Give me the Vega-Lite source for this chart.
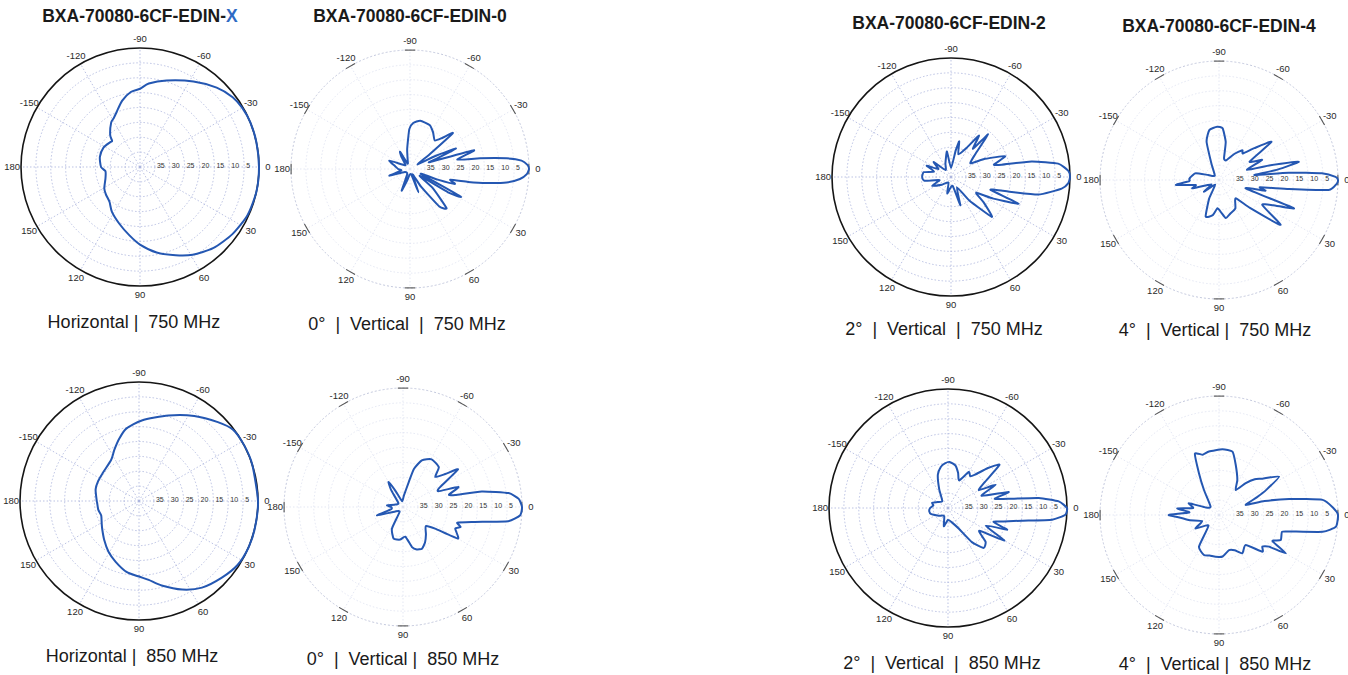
{
"$schema": "https://vega.github.io/schema/vega-lite/v6.json",
"padding": 0,
"background": "white",
"config": {"view": {"stroke": null}, "font": "Liberation Sans", "text": {"font": "Liberation Sans"}},
"datasets": {
"rings": [{"r":5},{"r":10},{"r":15},{"r":20},{"r":25},{"r":30},{"r":35},{"r":40}],
"spokes": [{"a":0},{"a":30},{"a":60},{"a":90},{"a":120},{"a":150},{"a":180},{"a":210},{"a":240},{"a":270},{"a":300},{"a":330}],
"alab": [{"a":0,"t":"0"},{"a":-30,"t":"-30"},{"a":-60,"t":"-60"},{"a":-90,"t":"-90"},{"a":-120,"t":"-120"},{"a":-150,"t":"-150"},{"a":180,"t":"180"},{"a":150,"t":"150"},{"a":120,"t":"120"},{"a":90,"t":"90"},{"a":60,"t":"60"},{"a":30,"t":"30"}],
"dbl": [{"db":35},{"db":30},{"db":25},{"db":20},{"db":15},{"db":10},{"db":5}],
"titles": [{"p":"P1","t":"BXA-70080-6CF-EDIN-"},{"p":"P1b","t":"X"},{"p":"P2","t":"BXA-70080-6CF-EDIN-0"},{"p":"P3","t":"BXA-70080-6CF-EDIN-2"},{"p":"P4","t":"BXA-70080-6CF-EDIN-4"}],
"subs": [{"p":"P1","t":"Horizontal |\u00a0 750 MHz"},{"p":"P2","t":"0°\u00a0 |\u00a0 Vertical\u00a0 |\u00a0 750 MHz"},{"p":"P3","t":"2°\u00a0 |\u00a0 Vertical\u00a0 |\u00a0 750 MHz"},{"p":"P4","t":"4°\u00a0 |\u00a0 Vertical |\u00a0 750 MHz"},{"p":"P5","t":"Horizontal |\u00a0 850 MHz"},{"p":"P6","t":"0°\u00a0 |\u00a0 Vertical |\u00a0 850 MHz"},{"p":"P7","t":"2°\u00a0 |\u00a0 Vertical\u00a0 |\u00a0 850 MHz"},{"p":"P8","t":"4°\u00a0 |\u00a0 Vertical |\u00a0 850 MHz"}],
"pat": [
{"p":"P1","a":-180,"db":26.9},{"p":"P1","a":-166,"db":26.1},{"p":"P1","a":-152,"db":26.1},{"p":"P1","a":-140,"db":27.0},{"p":"P1","a":-137,"db":27.2},{"p":"P1","a":-133,"db":25.3},{"p":"P1","a":-123,"db":22.2},{"p":"P1","a":-118,"db":21.3},{"p":"P1","a":-113,"db":19.9},{"p":"P1","a":-105,"db":16.9},{"p":"P1","a":-97,"db":14.6},{"p":"P1","a":-90,"db":13.7},{"p":"P1","a":-84,"db":11.8},{"p":"P1","a":-73,"db":9.6},{"p":"P1","a":-58,"db":6.1},{"p":"P1","a":-46,"db":2.9},{"p":"P1","a":-37,"db":1.0},{"p":"P1","a":-30,"db":0.3},{"p":"P1","a":-22,"db":0},{"p":"P1","a":-12,"db":0},{"p":"P1","a":0,"db":0},{"p":"P1","a":12,"db":0},{"p":"P1","a":24,"db":0.4},{"p":"P1","a":36,"db":1.6},{"p":"P1","a":48,"db":3.3},{"p":"P1","a":59,"db":5.6},{"p":"P1","a":68,"db":8.0},{"p":"P1","a":79,"db":10.7},{"p":"P1","a":90,"db":13.9},{"p":"P1","a":99,"db":16.8},{"p":"P1","a":110,"db":19.7},{"p":"P1","a":122,"db":22.2},{"p":"P1","a":131,"db":24.4},{"p":"P1","a":141,"db":25.3},{"p":"P1","a":149,"db":26.0},{"p":"P1","a":162,"db":27.8},{"p":"P1","a":173,"db":28.3},
{"p":"P5","a":-180,"db":25.8},{"p":"P5","a":-165,"db":24.9},{"p":"P5","a":-154,"db":24.7},{"p":"P5","a":-142,"db":24.6},{"p":"P5","a":-124,"db":23.3},{"p":"P5","a":-116,"db":21.0},{"p":"P5","a":-107.5,"db":18.0},{"p":"P5","a":-100,"db":15.3},{"p":"P5","a":-88,"db":12.9},{"p":"P5","a":-71,"db":9.6},{"p":"P5","a":-57,"db":5.9},{"p":"P5","a":-45,"db":2.5},{"p":"P5","a":-37,"db":0.3},{"p":"P5","a":-28,"db":0},{"p":"P5","a":-18,"db":0},{"p":"P5","a":0,"db":0},{"p":"P5","a":13,"db":0},{"p":"P5","a":23,"db":0},{"p":"P5","a":33,"db":0.5},{"p":"P5","a":43,"db":2.1},{"p":"P5","a":54,"db":4.0},{"p":"P5","a":64,"db":6.9},{"p":"P5","a":75,"db":10.6},{"p":"P5","a":83,"db":13.3},{"p":"P5","a":90,"db":14.6},{"p":"P5","a":100,"db":15.8},{"p":"P5","a":111,"db":18.1},{"p":"P5","a":121,"db":20.1},{"p":"P5","a":132,"db":22.5},{"p":"P5","a":143,"db":24.5},{"p":"P5","a":150,"db":25.5},{"p":"P5","a":159,"db":26.4},{"p":"P5","a":168,"db":26.0},{"p":"P5","a":178,"db":25.9},
{"p":"P2","a":-180,"db":36},{"p":"P2","a":-170,"db":35},{"p":"P2","a":-158,"db":32.5},{"p":"P2","a":-150,"db":37},{"p":"P2","a":-138,"db":38},{"p":"P2","a":-125,"db":35},{"p":"P2","a":-120,"db":33.3},{"p":"P2","a":-114,"db":38},{"p":"P2","a":-105,"db":37},{"p":"P2","a":-98,"db":33.2},{"p":"P2","a":-91,"db":26.6},{"p":"P2","a":-86,"db":24.5},{"p":"P2","a":-78,"db":23.4},{"p":"P2","a":-66,"db":23.8},{"p":"P2","a":-58,"db":25.4},{"p":"P2","a":-49,"db":27.3},{"p":"P2","a":-44,"db":25},{"p":"P2","a":-40,"db":21.2},{"p":"P2","a":-37,"db":31.6},{"p":"P2","a":-31,"db":37},{"p":"P2","a":-27,"db":30},{"p":"P2","a":-24,"db":23.1},{"p":"P2","a":-21,"db":31},{"p":"P2","a":-19,"db":33},{"p":"P2","a":-16.3,"db":17.6},{"p":"P2","a":-11.2,"db":23.8},{"p":"P2","a":-8.7,"db":16.2},{"p":"P2","a":-6.3,"db":7.3},{"p":"P2","a":-4.3,"db":2.4},{"p":"P2","a":-2,"db":0.5},{"p":"P2","a":0,"db":0},{"p":"P2","a":2.5,"db":0.7},{"p":"P2","a":5.2,"db":2.9},{"p":"P2","a":7.9,"db":7.2},{"p":"P2","a":10.3,"db":13.8},{"p":"P2","a":12.5,"db":20},{"p":"P2","a":15,"db":26},{"p":"P2","a":18.4,"db":24.1},{"p":"P2","a":21,"db":30},{"p":"P2","a":24,"db":36},{"p":"P2","a":28.6,"db":20.6},{"p":"P2","a":31.5,"db":25},{"p":"P2","a":35,"db":36},{"p":"P2","a":40,"db":30},{"p":"P2","a":47,"db":22},{"p":"P2","a":52,"db":24},{"p":"P2","a":58,"db":33},{"p":"P2","a":64,"db":38},{"p":"P2","a":70,"db":31.7},{"p":"P2","a":76,"db":38},{"p":"P2","a":95,"db":38},{"p":"P2","a":104,"db":36},{"p":"P2","a":111,"db":32.2},{"p":"P2","a":118,"db":38},{"p":"P2","a":150,"db":38},{"p":"P2","a":162,"db":32.7},{"p":"P2","a":170,"db":37},
{"p":"P3","a":-180,"db":30.3},{"p":"P3","a":-170,"db":30.7},{"p":"P3","a":-162,"db":34},{"p":"P3","a":-155,"db":31},{"p":"P3","a":-148,"db":35},{"p":"P3","a":-139,"db":32.3},{"p":"P3","a":-128,"db":37},{"p":"P3","a":-112,"db":35},{"p":"P3","a":-99,"db":31.3},{"p":"P3","a":-90,"db":37},{"p":"P3","a":-80,"db":31},{"p":"P3","a":-77,"db":27.7},{"p":"P3","a":-72,"db":32},{"p":"P3","a":-62,"db":29},{"p":"P3","a":-56,"db":23.2},{"p":"P3","a":-52,"db":28},{"p":"P3","a":-49,"db":21},{"p":"P3","a":-43,"db":29},{"p":"P3","a":-35,"db":32},{"p":"P3","a":-28,"db":27},{"p":"P3","a":-21,"db":20.5},{"p":"P3","a":-16,"db":25},{"p":"P3","a":-13.6,"db":22.4},{"p":"P3","a":-10.9,"db":12.4},{"p":"P3","a":-7.1,"db":3.7},{"p":"P3","a":-3,"db":0.5},{"p":"P3","a":0,"db":0},{"p":"P3","a":3,"db":0.5},{"p":"P3","a":6,"db":2.6},{"p":"P3","a":11.4,"db":10.1},{"p":"P3","a":15,"db":22},{"p":"P3","a":18,"db":26},{"p":"P3","a":21.5,"db":15.6},{"p":"P3","a":27,"db":24},{"p":"P3","a":32,"db":30},{"p":"P3","a":38,"db":26},{"p":"P3","a":44.3,"db":20.8},{"p":"P3","a":52,"db":30},{"p":"P3","a":60,"db":36},{"p":"P3","a":71.8,"db":30},{"p":"P3","a":80,"db":37},{"p":"P3","a":103,"db":34.3},{"p":"P3","a":115,"db":38},{"p":"P3","a":140,"db":36},{"p":"P3","a":155,"db":33},{"p":"P3","a":165,"db":36},{"p":"P3","a":172,"db":31},
{"p":"P4","a":-178,"db":30},{"p":"P4","a":-170,"db":31},{"p":"P4","a":-164,"db":31.9},{"p":"P4","a":-155,"db":36},{"p":"P4","a":-135,"db":38},{"p":"P4","a":-115,"db":34},{"p":"P4","a":-108,"db":26.5},{"p":"P4","a":-101,"db":22.9},{"p":"P4","a":-92,"db":22.1},{"p":"P4","a":-86,"db":22.6},{"p":"P4","a":-80,"db":27},{"p":"P4","a":-77,"db":32.5},{"p":"P4","a":-70,"db":33},{"p":"P4","a":-60,"db":30},{"p":"P4","a":-52,"db":27.3},{"p":"P4","a":-48,"db":28},{"p":"P4","a":-42,"db":24},{"p":"P4","a":-36,"db":18.2},{"p":"P4","a":-31,"db":28},{"p":"P4","a":-25,"db":24},{"p":"P4","a":-20,"db":30},{"p":"P4","a":-16,"db":22},{"p":"P4","a":-12.9,"db":12.5},{"p":"P4","a":-10,"db":20},{"p":"P4","a":-8,"db":28},{"p":"P4","a":-6,"db":16.4},{"p":"P4","a":-3.7,"db":5.3},{"p":"P4","a":-1.5,"db":0.8},{"p":"P4","a":0,"db":0},{"p":"P4","a":2,"db":0.5},{"p":"P4","a":5.2,"db":3},{"p":"P4","a":7.3,"db":16.3},{"p":"P4","a":10,"db":26},{"p":"P4","a":13,"db":24},{"p":"P4","a":17.4,"db":30.6},{"p":"P4","a":20.7,"db":13.1},{"p":"P4","a":25,"db":20},{"p":"P4","a":30,"db":23.2},{"p":"P4","a":36.1,"db":14.4},{"p":"P4","a":42,"db":26},{"p":"P4","a":47.7,"db":31.7},{"p":"P4","a":60,"db":29},{"p":"P4","a":72,"db":28},{"p":"P4","a":80,"db":27},{"p":"P4","a":86,"db":29},{"p":"P4","a":93,"db":30.5},{"p":"P4","a":100,"db":28},{"p":"P4","a":110,"db":26.9},{"p":"P4","a":118,"db":33},{"p":"P4","a":130,"db":38},{"p":"P4","a":142,"db":33.6},{"p":"P4","a":150,"db":37},{"p":"P4","a":162.6,"db":30.6},{"p":"P4","a":168,"db":32},{"p":"P4","a":173.4,"db":25.4},{"p":"P4","a":178,"db":30},
{"p":"P6","a":-180,"db":36},{"p":"P6","a":-174,"db":34.6},{"p":"P6","a":-165,"db":37},{"p":"P6","a":-140,"db":38},{"p":"P6","a":-125,"db":33},{"p":"P6","a":-120,"db":30.3},{"p":"P6","a":-115,"db":34},{"p":"P6","a":-100,"db":38},{"p":"P6","a":-85,"db":36},{"p":"P6","a":-77,"db":31.4},{"p":"P6","a":-74,"db":26.7},{"p":"P6","a":-68,"db":23.1},{"p":"P6","a":-59,"db":21.3},{"p":"P6","a":-48,"db":22},{"p":"P6","a":-43,"db":25.2},{"p":"P6","a":-38,"db":22},{"p":"P6","a":-34.4,"db":17.6},{"p":"P6","a":-28,"db":26},{"p":"P6","a":-24,"db":27},{"p":"P6","a":-19.8,"db":20.2},{"p":"P6","a":-15,"db":24},{"p":"P6","a":-13,"db":22},{"p":"P6","a":-11.2,"db":13},{"p":"P6","a":-7.5,"db":4.2},{"p":"P6","a":-4,"db":1},{"p":"P6","a":0,"db":0},{"p":"P6","a":4,"db":0.5},{"p":"P6","a":7.7,"db":4.3},{"p":"P6","a":11.7,"db":15.3},{"p":"P6","a":16,"db":21},{"p":"P6","a":19,"db":19.5},{"p":"P6","a":22.5,"db":21},{"p":"P6","a":29.9,"db":18.7},{"p":"P6","a":34,"db":27},{"p":"P6","a":40,"db":30},{"p":"P6","a":50,"db":28},{"p":"P6","a":58,"db":26},{"p":"P6","a":65.5,"db":24.6},{"p":"P6","a":72,"db":25},{"p":"P6","a":77.3,"db":26.2},{"p":"P6","a":85.6,"db":30},{"p":"P6","a":95,"db":29},{"p":"P6","a":106.4,"db":28.9},{"p":"P6","a":117,"db":31.8},{"p":"P6","a":125,"db":38},{"p":"P6","a":150,"db":37},{"p":"P6","a":162,"db":30.8},{"p":"P6","a":170,"db":36},
{"p":"P7","a":-180,"db":34},{"p":"P7","a":-170,"db":35},{"p":"P7","a":-162,"db":34.4},{"p":"P7","a":-150,"db":36},{"p":"P7","a":-130,"db":37},{"p":"P7","a":-115,"db":33},{"p":"P7","a":-107,"db":28.3},{"p":"P7","a":-100,"db":26},{"p":"P7","a":-94,"db":25},{"p":"P7","a":-88,"db":24.5},{"p":"P7","a":-80,"db":25.5},{"p":"P7","a":-74,"db":27.7},{"p":"P7","a":-68,"db":30},{"p":"P7","a":-60,"db":26},{"p":"P7","a":-55,"db":27},{"p":"P7","a":-51,"db":25.6},{"p":"P7","a":-45,"db":21},{"p":"P7","a":-40,"db":17.4},{"p":"P7","a":-35,"db":25},{"p":"P7","a":-30,"db":28},{"p":"P7","a":-26,"db":22.2},{"p":"P7","a":-20,"db":28},{"p":"P7","a":-14.8,"db":18.9},{"p":"P7","a":-11,"db":24},{"p":"P7","a":-8.3,"db":18.2},{"p":"P7","a":-6.3,"db":9.3},{"p":"P7","a":-3.4,"db":2.7},{"p":"P7","a":0,"db":0},{"p":"P7","a":3.3,"db":0.5},{"p":"P7","a":6.4,"db":4.8},{"p":"P7","a":9.7,"db":14.7},{"p":"P7","a":13.5,"db":20.7},{"p":"P7","a":17,"db":24},{"p":"P7","a":20.2,"db":18.8},{"p":"P7","a":25,"db":26},{"p":"P7","a":30.1,"db":18.1},{"p":"P7","a":36,"db":27},{"p":"P7","a":42,"db":23},{"p":"P7","a":48.3,"db":22},{"p":"P7","a":55,"db":26},{"p":"P7","a":62,"db":32},{"p":"P7","a":75,"db":35},{"p":"P7","a":90,"db":36},{"p":"P7","a":103,"db":33.7},{"p":"P7","a":115,"db":37},{"p":"P7","a":140,"db":36},{"p":"P7","a":160,"db":34},{"p":"P7","a":170,"db":33.6},
{"p":"P8","a":-180,"db":23.1},{"p":"P8","a":-175,"db":30},{"p":"P8","a":-171,"db":25.8},{"p":"P8","a":-165,"db":31},{"p":"P8","a":-158.7,"db":29.1},{"p":"P8","a":-150,"db":35},{"p":"P8","a":-135,"db":36},{"p":"P8","a":-121,"db":30.2},{"p":"P8","a":-115.6,"db":24.4},{"p":"P8","a":-111.5,"db":17.9},{"p":"P8","a":-105,"db":19},{"p":"P8","a":-99,"db":18.4},{"p":"P8","a":-87,"db":17.9},{"p":"P8","a":-78,"db":18.2},{"p":"P8","a":-71.6,"db":22.2},{"p":"P8","a":-62.4,"db":26.7},{"p":"P8","a":-56.3,"db":29.9},{"p":"P8","a":-50,"db":26},{"p":"P8","a":-45,"db":23},{"p":"P8","a":-40,"db":21},{"p":"P8","a":-32.6,"db":16},{"p":"P8","a":-28,"db":22},{"p":"P8","a":-25,"db":26},{"p":"P8","a":-20.6,"db":30.4},{"p":"P8","a":-17,"db":24},{"p":"P8","a":-12.9,"db":15.8},{"p":"P8","a":-8.3,"db":4.8},{"p":"P8","a":-3.5,"db":1.5},{"p":"P8","a":0,"db":0},{"p":"P8","a":5.7,"db":0.5},{"p":"P8","a":9.2,"db":4.7},{"p":"P8","a":13.3,"db":16},{"p":"P8","a":15,"db":18.1},{"p":"P8","a":22.1,"db":17.6},{"p":"P8","a":26,"db":20},{"p":"P8","a":29.9,"db":14.1},{"p":"P8","a":32.3,"db":20.1},{"p":"P8","a":36,"db":22},{"p":"P8","a":40.2,"db":20.9},{"p":"P8","a":48.4,"db":26.5},{"p":"P8","a":58.7,"db":24.9},{"p":"P8","a":66,"db":27},{"p":"P8","a":74,"db":27.7},{"p":"P8","a":85,"db":26},{"p":"P8","a":94.6,"db":25.9},{"p":"P8","a":103,"db":26},{"p":"P8","a":110.6,"db":25.6},{"p":"P8","a":122.3,"db":27.4},{"p":"P8","a":135,"db":35},{"p":"P8","a":150,"db":30.9},{"p":"P8","a":160,"db":34},{"p":"P8","a":170,"db":30},{"p":"P8","a":176,"db":27}
]
},
"bounds": "flush",
"spacing": 0,
"columns": 4,
"concat": [
  {"width": 275, "height": 335,
   "encoding": {"x": {"field": "x", "type": "quantitative", "scale": {"domain": [-47.059, 45.378], "nice": false, "zero": false}, "axis": null},
                "y": {"field": "y", "type": "quantitative", "scale": {"domain": [-56.471, 56.134], "nice": false, "zero": false}, "axis": null}},
   "layer": [
    {"data": {"name": "rings"}, "transform": [{"filter": "datum.r < 40"}, {"calculate": "0", "as": "x"}, {"calculate": "0", "as": "y"}],
     "mark": {"type": "point", "shape": "circle", "filled": false, "stroke": "#a9b2dc", "strokeWidth": 0.8, "strokeDash": [1.5, 2], "opacity": 1},
     "encoding": {"size": {"field": "r", "type": "quantitative", "scale": {"type": "pow", "exponent": 2, "domain": [0, 40], "range": [0, 56644]}, "legend": null}}},
    {"data": {"name": "spokes"}, "transform": [{"calculate": "0", "as": "x"}, {"calculate": "0", "as": "y"}, {"calculate": "40*cos(datum.a*PI/180)", "as": "x2"}, {"calculate": "-40*sin(datum.a*PI/180)", "as": "y2"}],
     "mark": {"type": "rule", "stroke": "#a9b2dc", "strokeWidth": 0.8, "strokeDash": [1.5, 2]},
     "encoding": {"x2": {"field": "x2"}, "y2": {"field": "y2"}}},
    {"data": {"name": "rings"}, "transform": [{"filter": "datum.r == 40"}, {"calculate": "0", "as": "x"}, {"calculate": "0", "as": "y"}],
     "mark": {"type": "point", "shape": "circle", "filled": false, "stroke": "#151515", "strokeWidth": 1.6, "opacity": 1},
     "encoding": {"size": {"field": "r", "type": "quantitative", "scale": {"type": "pow", "exponent": 2, "domain": [0, 40], "range": [0, 56644]}, "legend": null}}},
    {"data": {"name": "alab"}, "transform": [{"calculate": "43*cos(datum.a*PI/180)", "as": "x"}, {"calculate": "-43*sin(datum.a*PI/180)", "as": "y"}],
     "mark": {"type": "text", "fontSize": 9.5, "color": "#2a2a2a", "baseline": "middle", "align": "center"},
     "encoding": {"text": {"field": "t"}}},
    {"data": {"name": "dbl"}, "transform": [{"calculate": "40-datum.db", "as": "x"}, {"calculate": "0", "as": "y"}],
     "mark": {"type": "text", "fontSize": 7, "color": "#333333", "baseline": "middle", "align": "left", "dx": 2, "dy": -1},
     "encoding": {"text": {"field": "db"}}},
    {"data": {"name": "pat"}, "transform": [{"filter": "datum.p == 'P1'"}, {"calculate": "(40-datum.db)*cos(datum.a*PI/180)", "as": "x"}, {"calculate": "-(40-datum.db)*sin(datum.a*PI/180)", "as": "y"}],
     "mark": {"type": "line", "interpolate": "cardinal-closed", "tension": 0.3, "stroke": "#2457b2", "strokeWidth": 2},
     "encoding": {"order": {"field": "a", "type": "quantitative"}}},
    {"data": {"name": "titles"}, "transform": [{"filter": "datum.p == 'P1'"}, {"calculate": "0", "as": "x"}, {"calculate": "50.42", "as": "y"}],
     "mark": {"type": "text", "fontSize": 17.5, "fontWeight": "bold", "color": "#1a1a1a", "baseline": "middle", "align": "right", "dx": 86},
     "encoding": {"text": {"field": "t"}}},
    {"data": {"name": "titles"}, "transform": [{"filter": "datum.p == 'P1b'"}, {"calculate": "0", "as": "x"}, {"calculate": "50.42", "as": "y"}],
     "mark": {"type": "text", "fontSize": 17.5, "fontWeight": "bold", "color": "#2f6bc4", "baseline": "middle", "align": "left", "dx": 86},
     "encoding": {"text": {"field": "t"}}},
    {"data": {"name": "subs"}, "transform": [{"filter": "datum.p == 'P1'"}, {"calculate": "-2.02", "as": "x"}, {"calculate": "-52.44", "as": "y"}],
     "mark": {"type": "text", "fontSize": 18, "color": "#1a1a1a", "baseline": "middle", "align": "center"},
     "encoding": {"text": {"field": "t"}}}
   ]},
  {"width": 541, "height": 335,
   "encoding": {"x": {"field": "x", "type": "quantitative", "scale": {"domain": [-45.378, 136.471], "nice": false, "zero": false}, "axis": null},
                "y": {"field": "y", "type": "quantitative", "scale": {"domain": [-55.798, 56.807], "nice": false, "zero": false}, "axis": null}},
   "layer": [
    {"data": {"name": "rings"}, "transform": [{"filter": "datum.r < 40"}, {"calculate": "0", "as": "x"}, {"calculate": "0", "as": "y"}],
     "mark": {"type": "point", "shape": "circle", "filled": false, "stroke": "#dde1f0", "strokeWidth": 0.8, "strokeDash": [1.5, 2], "opacity": 1},
     "encoding": {"size": {"field": "r", "type": "quantitative", "scale": {"type": "pow", "exponent": 2, "domain": [0, 40], "range": [0, 56644]}, "legend": null}}},
    {"data": {"name": "spokes"}, "transform": [{"calculate": "0", "as": "x"}, {"calculate": "0", "as": "y"}, {"calculate": "40*cos(datum.a*PI/180)", "as": "x2"}, {"calculate": "-40*sin(datum.a*PI/180)", "as": "y2"}],
     "mark": {"type": "rule", "stroke": "#dde1f0", "strokeWidth": 0.8, "strokeDash": [1.5, 2]},
     "encoding": {"x2": {"field": "x2"}, "y2": {"field": "y2"}}},
    {"data": {"name": "rings"}, "transform": [{"filter": "datum.r == 40"}, {"calculate": "0", "as": "x"}, {"calculate": "0", "as": "y"}],
     "mark": {"type": "point", "shape": "circle", "filled": false, "stroke": "#c3c8dd", "strokeWidth": 1, "strokeDash": [2, 2], "opacity": 1},
     "encoding": {"size": {"field": "r", "type": "quantitative", "scale": {"type": "pow", "exponent": 2, "domain": [0, 40], "range": [0, 56644]}, "legend": null}}},
    {"data": {"name": "alab"}, "transform": [{"calculate": "40*cos((datum.a-2.5)*PI/180)", "as": "x"}, {"calculate": "-40*sin((datum.a-2.5)*PI/180)", "as": "y"}, {"calculate": "40*cos((datum.a+2.5)*PI/180)", "as": "x2"}, {"calculate": "-40*sin((datum.a+2.5)*PI/180)", "as": "y2"}],
     "mark": {"type": "rule", "stroke": "#555555", "strokeWidth": 1.1},
     "encoding": {"x2": {"field": "x2"}, "y2": {"field": "y2"}}},
    {"data": {"name": "alab"}, "transform": [{"calculate": "43*cos(datum.a*PI/180)", "as": "x"}, {"calculate": "-43*sin(datum.a*PI/180)", "as": "y"}],
     "mark": {"type": "text", "fontSize": 9.5, "color": "#2a2a2a", "baseline": "middle", "align": "center"},
     "encoding": {"text": {"field": "t"}}},
    {"data": {"name": "dbl"}, "transform": [{"calculate": "40-datum.db", "as": "x"}, {"calculate": "0", "as": "y"}],
     "mark": {"type": "text", "fontSize": 7, "color": "#333333", "baseline": "middle", "align": "left", "dx": 2, "dy": -1},
     "encoding": {"text": {"field": "db"}}},
    {"data": {"name": "pat"}, "transform": [{"filter": "datum.p == 'P2'"}, {"calculate": "(40-datum.db)*cos(datum.a*PI/180)", "as": "x"}, {"calculate": "-(40-datum.db)*sin(datum.a*PI/180)", "as": "y"}],
     "mark": {"type": "line", "interpolate": "cardinal-closed", "tension": 0.5, "stroke": "#2457b2", "strokeWidth": 2},
     "encoding": {"order": {"field": "a", "type": "quantitative"}}},
    {"data": {"name": "titles"}, "transform": [{"filter": "datum.p == 'P2'"}, {"calculate": "0", "as": "x"}, {"calculate": "51.09", "as": "y"}],
     "mark": {"type": "text", "fontSize": 17.5, "fontWeight": "bold", "color": "#1a1a1a", "baseline": "middle", "align": "center"},
     "encoding": {"text": {"field": "t"}}},
    {"data": {"name": "subs"}, "transform": [{"filter": "datum.p == 'P2'"}, {"calculate": "-1.01", "as": "x"}, {"calculate": "-52.44", "as": "y"}],
     "mark": {"type": "text", "fontSize": 18, "color": "#1a1a1a", "baseline": "middle", "align": "center"},
     "encoding": {"text": {"field": "t"}}}
   ]},
  {"width": 270, "height": 335,
   "encoding": {"x": {"field": "x", "type": "quantitative", "scale": {"domain": [-45.378, 45.378], "nice": false, "zero": false}, "axis": null},
                "y": {"field": "y", "type": "quantitative", "scale": {"domain": [-53.109, 59.496], "nice": false, "zero": false}, "axis": null}},
   "layer": [
    {"data": {"name": "rings"}, "transform": [{"filter": "datum.r < 40"}, {"calculate": "0", "as": "x"}, {"calculate": "0", "as": "y"}],
     "mark": {"type": "point", "shape": "circle", "filled": false, "stroke": "#a9b2dc", "strokeWidth": 0.8, "strokeDash": [1.5, 2], "opacity": 1},
     "encoding": {"size": {"field": "r", "type": "quantitative", "scale": {"type": "pow", "exponent": 2, "domain": [0, 40], "range": [0, 56644]}, "legend": null}}},
    {"data": {"name": "spokes"}, "transform": [{"calculate": "0", "as": "x"}, {"calculate": "0", "as": "y"}, {"calculate": "40*cos(datum.a*PI/180)", "as": "x2"}, {"calculate": "-40*sin(datum.a*PI/180)", "as": "y2"}],
     "mark": {"type": "rule", "stroke": "#a9b2dc", "strokeWidth": 0.8, "strokeDash": [1.5, 2]},
     "encoding": {"x2": {"field": "x2"}, "y2": {"field": "y2"}}},
    {"data": {"name": "rings"}, "transform": [{"filter": "datum.r == 40"}, {"calculate": "0", "as": "x"}, {"calculate": "0", "as": "y"}],
     "mark": {"type": "point", "shape": "circle", "filled": false, "stroke": "#151515", "strokeWidth": 1.6, "opacity": 1},
     "encoding": {"size": {"field": "r", "type": "quantitative", "scale": {"type": "pow", "exponent": 2, "domain": [0, 40], "range": [0, 56644]}, "legend": null}}},
    {"data": {"name": "alab"}, "transform": [{"calculate": "43*cos(datum.a*PI/180)", "as": "x"}, {"calculate": "-43*sin(datum.a*PI/180)", "as": "y"}],
     "mark": {"type": "text", "fontSize": 9.5, "color": "#2a2a2a", "baseline": "middle", "align": "center"},
     "encoding": {"text": {"field": "t"}}},
    {"data": {"name": "dbl"}, "transform": [{"calculate": "40-datum.db", "as": "x"}, {"calculate": "0", "as": "y"}],
     "mark": {"type": "text", "fontSize": 7, "color": "#333333", "baseline": "middle", "align": "left", "dx": 2, "dy": -1},
     "encoding": {"text": {"field": "db"}}},
    {"data": {"name": "pat"}, "transform": [{"filter": "datum.p == 'P3'"}, {"calculate": "(40-datum.db)*cos(datum.a*PI/180)", "as": "x"}, {"calculate": "-(40-datum.db)*sin(datum.a*PI/180)", "as": "y"}],
     "mark": {"type": "line", "interpolate": "cardinal-closed", "tension": 0.5, "stroke": "#2457b2", "strokeWidth": 2},
     "encoding": {"order": {"field": "a", "type": "quantitative"}}},
    {"data": {"name": "titles"}, "transform": [{"filter": "datum.p == 'P3'"}, {"calculate": "-0.67", "as": "x"}, {"calculate": "51.43", "as": "y"}],
     "mark": {"type": "text", "fontSize": 17.5, "fontWeight": "bold", "color": "#1a1a1a", "baseline": "middle", "align": "center"},
     "encoding": {"text": {"field": "t"}}},
    {"data": {"name": "subs"}, "transform": [{"filter": "datum.p == 'P3'"}, {"calculate": "-2.35", "as": "x"}, {"calculate": "-51.43", "as": "y"}],
     "mark": {"type": "text", "fontSize": 18, "color": "#1a1a1a", "baseline": "middle", "align": "center"},
     "encoding": {"text": {"field": "t"}}}
   ]},
  {"width": 262, "height": 335,
   "encoding": {"x": {"field": "x", "type": "quantitative", "scale": {"domain": [-44.706, 43.361], "nice": false, "zero": false}, "axis": null},
                "y": {"field": "y", "type": "quantitative", "scale": {"domain": [-52.101, 60.504], "nice": false, "zero": false}, "axis": null}},
   "layer": [
    {"data": {"name": "rings"}, "transform": [{"filter": "datum.r < 40"}, {"calculate": "0", "as": "x"}, {"calculate": "0", "as": "y"}],
     "mark": {"type": "point", "shape": "circle", "filled": false, "stroke": "#dde1f0", "strokeWidth": 0.8, "strokeDash": [1.5, 2], "opacity": 1},
     "encoding": {"size": {"field": "r", "type": "quantitative", "scale": {"type": "pow", "exponent": 2, "domain": [0, 40], "range": [0, 56644]}, "legend": null}}},
    {"data": {"name": "spokes"}, "transform": [{"calculate": "0", "as": "x"}, {"calculate": "0", "as": "y"}, {"calculate": "40*cos(datum.a*PI/180)", "as": "x2"}, {"calculate": "-40*sin(datum.a*PI/180)", "as": "y2"}],
     "mark": {"type": "rule", "stroke": "#dde1f0", "strokeWidth": 0.8, "strokeDash": [1.5, 2]},
     "encoding": {"x2": {"field": "x2"}, "y2": {"field": "y2"}}},
    {"data": {"name": "rings"}, "transform": [{"filter": "datum.r == 40"}, {"calculate": "0", "as": "x"}, {"calculate": "0", "as": "y"}],
     "mark": {"type": "point", "shape": "circle", "filled": false, "stroke": "#c3c8dd", "strokeWidth": 1, "strokeDash": [2, 2], "opacity": 1},
     "encoding": {"size": {"field": "r", "type": "quantitative", "scale": {"type": "pow", "exponent": 2, "domain": [0, 40], "range": [0, 56644]}, "legend": null}}},
    {"data": {"name": "alab"}, "transform": [{"calculate": "40*cos((datum.a-2.5)*PI/180)", "as": "x"}, {"calculate": "-40*sin((datum.a-2.5)*PI/180)", "as": "y"}, {"calculate": "40*cos((datum.a+2.5)*PI/180)", "as": "x2"}, {"calculate": "-40*sin((datum.a+2.5)*PI/180)", "as": "y2"}],
     "mark": {"type": "rule", "stroke": "#555555", "strokeWidth": 1.1},
     "encoding": {"x2": {"field": "x2"}, "y2": {"field": "y2"}}},
    {"data": {"name": "alab"}, "transform": [{"calculate": "43*cos(datum.a*PI/180)", "as": "x"}, {"calculate": "-43*sin(datum.a*PI/180)", "as": "y"}],
     "mark": {"type": "text", "fontSize": 9.5, "color": "#2a2a2a", "baseline": "middle", "align": "center"},
     "encoding": {"text": {"field": "t"}}},
    {"data": {"name": "dbl"}, "transform": [{"calculate": "40-datum.db", "as": "x"}, {"calculate": "0", "as": "y"}],
     "mark": {"type": "text", "fontSize": 7, "color": "#333333", "baseline": "middle", "align": "left", "dx": 2, "dy": -1},
     "encoding": {"text": {"field": "db"}}},
    {"data": {"name": "pat"}, "transform": [{"filter": "datum.p == 'P4'"}, {"calculate": "(40-datum.db)*cos(datum.a*PI/180)", "as": "x"}, {"calculate": "-(40-datum.db)*sin(datum.a*PI/180)", "as": "y"}],
     "mark": {"type": "line", "interpolate": "cardinal-closed", "tension": 0.5, "stroke": "#2457b2", "strokeWidth": 2},
     "encoding": {"order": {"field": "a", "type": "quantitative"}}},
    {"data": {"name": "titles"}, "transform": [{"filter": "datum.p == 'P4'"}, {"calculate": "0", "as": "x"}, {"calculate": "51.43", "as": "y"}],
     "mark": {"type": "text", "fontSize": 17.5, "fontWeight": "bold", "color": "#1a1a1a", "baseline": "middle", "align": "center"},
     "encoding": {"text": {"field": "t"}}},
    {"data": {"name": "subs"}, "transform": [{"filter": "datum.p == 'P4'"}, {"calculate": "-1.34", "as": "x"}, {"calculate": "-50.76", "as": "y"}],
     "mark": {"type": "text", "fontSize": 18, "color": "#1a1a1a", "baseline": "middle", "align": "center"},
     "encoding": {"text": {"field": "t"}}}
   ]},
  {"width": 275, "height": 340,
   "encoding": {"x": {"field": "x", "type": "quantitative", "scale": {"domain": [-46.723, 45.714], "nice": false, "zero": false}, "axis": null},
                "y": {"field": "y", "type": "quantitative", "scale": {"domain": [-58.487, 55.798], "nice": false, "zero": false}, "axis": null}},
   "layer": [
    {"data": {"name": "rings"}, "transform": [{"filter": "datum.r < 40"}, {"calculate": "0", "as": "x"}, {"calculate": "0", "as": "y"}],
     "mark": {"type": "point", "shape": "circle", "filled": false, "stroke": "#a9b2dc", "strokeWidth": 0.8, "strokeDash": [1.5, 2], "opacity": 1},
     "encoding": {"size": {"field": "r", "type": "quantitative", "scale": {"type": "pow", "exponent": 2, "domain": [0, 40], "range": [0, 56644]}, "legend": null}}},
    {"data": {"name": "spokes"}, "transform": [{"calculate": "0", "as": "x"}, {"calculate": "0", "as": "y"}, {"calculate": "40*cos(datum.a*PI/180)", "as": "x2"}, {"calculate": "-40*sin(datum.a*PI/180)", "as": "y2"}],
     "mark": {"type": "rule", "stroke": "#a9b2dc", "strokeWidth": 0.8, "strokeDash": [1.5, 2]},
     "encoding": {"x2": {"field": "x2"}, "y2": {"field": "y2"}}},
    {"data": {"name": "rings"}, "transform": [{"filter": "datum.r == 40"}, {"calculate": "0", "as": "x"}, {"calculate": "0", "as": "y"}],
     "mark": {"type": "point", "shape": "circle", "filled": false, "stroke": "#151515", "strokeWidth": 1.6, "opacity": 1},
     "encoding": {"size": {"field": "r", "type": "quantitative", "scale": {"type": "pow", "exponent": 2, "domain": [0, 40], "range": [0, 56644]}, "legend": null}}},
    {"data": {"name": "alab"}, "transform": [{"calculate": "43*cos(datum.a*PI/180)", "as": "x"}, {"calculate": "-43*sin(datum.a*PI/180)", "as": "y"}],
     "mark": {"type": "text", "fontSize": 9.5, "color": "#2a2a2a", "baseline": "middle", "align": "center"},
     "encoding": {"text": {"field": "t"}}},
    {"data": {"name": "dbl"}, "transform": [{"calculate": "40-datum.db", "as": "x"}, {"calculate": "0", "as": "y"}],
     "mark": {"type": "text", "fontSize": 7, "color": "#333333", "baseline": "middle", "align": "left", "dx": 2, "dy": -1},
     "encoding": {"text": {"field": "db"}}},
    {"data": {"name": "pat"}, "transform": [{"filter": "datum.p == 'P5'"}, {"calculate": "(40-datum.db)*cos(datum.a*PI/180)", "as": "x"}, {"calculate": "-(40-datum.db)*sin(datum.a*PI/180)", "as": "y"}],
     "mark": {"type": "line", "interpolate": "cardinal-closed", "tension": 0.3, "stroke": "#2457b2", "strokeWidth": 2},
     "encoding": {"order": {"field": "a", "type": "quantitative"}}},
    {"data": {"name": "subs"}, "transform": [{"filter": "datum.p == 'P5'"}, {"calculate": "-2.35", "as": "x"}, {"calculate": "-52.44", "as": "y"}],
     "mark": {"type": "text", "fontSize": 18, "color": "#1a1a1a", "baseline": "middle", "align": "center"},
     "encoding": {"text": {"field": "t"}}}
   ]},
  {"width": 541, "height": 340,
   "encoding": {"x": {"field": "x", "type": "quantitative", "scale": {"domain": [-43.025, 138.824], "nice": false, "zero": false}, "axis": null},
                "y": {"field": "y", "type": "quantitative", "scale": {"domain": [-56.471, 57.815], "nice": false, "zero": false}, "axis": null}},
   "layer": [
    {"data": {"name": "rings"}, "transform": [{"filter": "datum.r < 40"}, {"calculate": "0", "as": "x"}, {"calculate": "0", "as": "y"}],
     "mark": {"type": "point", "shape": "circle", "filled": false, "stroke": "#dde1f0", "strokeWidth": 0.8, "strokeDash": [1.5, 2], "opacity": 1},
     "encoding": {"size": {"field": "r", "type": "quantitative", "scale": {"type": "pow", "exponent": 2, "domain": [0, 40], "range": [0, 56644]}, "legend": null}}},
    {"data": {"name": "spokes"}, "transform": [{"calculate": "0", "as": "x"}, {"calculate": "0", "as": "y"}, {"calculate": "40*cos(datum.a*PI/180)", "as": "x2"}, {"calculate": "-40*sin(datum.a*PI/180)", "as": "y2"}],
     "mark": {"type": "rule", "stroke": "#dde1f0", "strokeWidth": 0.8, "strokeDash": [1.5, 2]},
     "encoding": {"x2": {"field": "x2"}, "y2": {"field": "y2"}}},
    {"data": {"name": "rings"}, "transform": [{"filter": "datum.r == 40"}, {"calculate": "0", "as": "x"}, {"calculate": "0", "as": "y"}],
     "mark": {"type": "point", "shape": "circle", "filled": false, "stroke": "#c3c8dd", "strokeWidth": 1, "strokeDash": [2, 2], "opacity": 1},
     "encoding": {"size": {"field": "r", "type": "quantitative", "scale": {"type": "pow", "exponent": 2, "domain": [0, 40], "range": [0, 56644]}, "legend": null}}},
    {"data": {"name": "alab"}, "transform": [{"calculate": "40*cos((datum.a-2.5)*PI/180)", "as": "x"}, {"calculate": "-40*sin((datum.a-2.5)*PI/180)", "as": "y"}, {"calculate": "40*cos((datum.a+2.5)*PI/180)", "as": "x2"}, {"calculate": "-40*sin((datum.a+2.5)*PI/180)", "as": "y2"}],
     "mark": {"type": "rule", "stroke": "#555555", "strokeWidth": 1.1},
     "encoding": {"x2": {"field": "x2"}, "y2": {"field": "y2"}}},
    {"data": {"name": "alab"}, "transform": [{"calculate": "43*cos(datum.a*PI/180)", "as": "x"}, {"calculate": "-43*sin(datum.a*PI/180)", "as": "y"}],
     "mark": {"type": "text", "fontSize": 9.5, "color": "#2a2a2a", "baseline": "middle", "align": "center"},
     "encoding": {"text": {"field": "t"}}},
    {"data": {"name": "dbl"}, "transform": [{"calculate": "40-datum.db", "as": "x"}, {"calculate": "0", "as": "y"}],
     "mark": {"type": "text", "fontSize": 7, "color": "#333333", "baseline": "middle", "align": "left", "dx": 2, "dy": -1},
     "encoding": {"text": {"field": "db"}}},
    {"data": {"name": "pat"}, "transform": [{"filter": "datum.p == 'P6'"}, {"calculate": "(40-datum.db)*cos(datum.a*PI/180)", "as": "x"}, {"calculate": "-(40-datum.db)*sin(datum.a*PI/180)", "as": "y"}],
     "mark": {"type": "line", "interpolate": "cardinal-closed", "tension": 0.5, "stroke": "#2457b2", "strokeWidth": 2},
     "encoding": {"order": {"field": "a", "type": "quantitative"}}},
    {"data": {"name": "subs"}, "transform": [{"filter": "datum.p == 'P6'"}, {"calculate": "0", "as": "x"}, {"calculate": "-51.43", "as": "y"}],
     "mark": {"type": "text", "fontSize": 18, "color": "#1a1a1a", "baseline": "middle", "align": "center"},
     "encoding": {"text": {"field": "t"}}}
   ]},
  {"width": 270, "height": 340,
   "encoding": {"x": {"field": "x", "type": "quantitative", "scale": {"domain": [-44.370, 46.387], "nice": false, "zero": false}, "axis": null},
                "y": {"field": "y", "type": "quantitative", "scale": {"domain": [-56.134, 58.151], "nice": false, "zero": false}, "axis": null}},
   "layer": [
    {"data": {"name": "rings"}, "transform": [{"filter": "datum.r < 40"}, {"calculate": "0", "as": "x"}, {"calculate": "0", "as": "y"}],
     "mark": {"type": "point", "shape": "circle", "filled": false, "stroke": "#a9b2dc", "strokeWidth": 0.8, "strokeDash": [1.5, 2], "opacity": 1},
     "encoding": {"size": {"field": "r", "type": "quantitative", "scale": {"type": "pow", "exponent": 2, "domain": [0, 40], "range": [0, 56644]}, "legend": null}}},
    {"data": {"name": "spokes"}, "transform": [{"calculate": "0", "as": "x"}, {"calculate": "0", "as": "y"}, {"calculate": "40*cos(datum.a*PI/180)", "as": "x2"}, {"calculate": "-40*sin(datum.a*PI/180)", "as": "y2"}],
     "mark": {"type": "rule", "stroke": "#a9b2dc", "strokeWidth": 0.8, "strokeDash": [1.5, 2]},
     "encoding": {"x2": {"field": "x2"}, "y2": {"field": "y2"}}},
    {"data": {"name": "rings"}, "transform": [{"filter": "datum.r == 40"}, {"calculate": "0", "as": "x"}, {"calculate": "0", "as": "y"}],
     "mark": {"type": "point", "shape": "circle", "filled": false, "stroke": "#151515", "strokeWidth": 1.6, "opacity": 1},
     "encoding": {"size": {"field": "r", "type": "quantitative", "scale": {"type": "pow", "exponent": 2, "domain": [0, 40], "range": [0, 56644]}, "legend": null}}},
    {"data": {"name": "alab"}, "transform": [{"calculate": "43*cos(datum.a*PI/180)", "as": "x"}, {"calculate": "-43*sin(datum.a*PI/180)", "as": "y"}],
     "mark": {"type": "text", "fontSize": 9.5, "color": "#2a2a2a", "baseline": "middle", "align": "center"},
     "encoding": {"text": {"field": "t"}}},
    {"data": {"name": "dbl"}, "transform": [{"calculate": "40-datum.db", "as": "x"}, {"calculate": "0", "as": "y"}],
     "mark": {"type": "text", "fontSize": 7, "color": "#333333", "baseline": "middle", "align": "left", "dx": 2, "dy": -1},
     "encoding": {"text": {"field": "db"}}},
    {"data": {"name": "pat"}, "transform": [{"filter": "datum.p == 'P7'"}, {"calculate": "(40-datum.db)*cos(datum.a*PI/180)", "as": "x"}, {"calculate": "-(40-datum.db)*sin(datum.a*PI/180)", "as": "y"}],
     "mark": {"type": "line", "interpolate": "cardinal-closed", "tension": 0.5, "stroke": "#2457b2", "strokeWidth": 2},
     "encoding": {"order": {"field": "a", "type": "quantitative"}}},
    {"data": {"name": "subs"}, "transform": [{"filter": "datum.p == 'P7'"}, {"calculate": "-2.02", "as": "x"}, {"calculate": "-52.44", "as": "y"}],
     "mark": {"type": "text", "fontSize": 18, "color": "#1a1a1a", "baseline": "middle", "align": "center"},
     "encoding": {"text": {"field": "t"}}}
   ]},
  {"width": 262, "height": 340,
   "encoding": {"x": {"field": "x", "type": "quantitative", "scale": {"domain": [-44.706, 43.361], "nice": false, "zero": false}, "axis": null},
                "y": {"field": "y", "type": "quantitative", "scale": {"domain": [-53.782, 60.504], "nice": false, "zero": false}, "axis": null}},
   "layer": [
    {"data": {"name": "rings"}, "transform": [{"filter": "datum.r < 40"}, {"calculate": "0", "as": "x"}, {"calculate": "0", "as": "y"}],
     "mark": {"type": "point", "shape": "circle", "filled": false, "stroke": "#dde1f0", "strokeWidth": 0.8, "strokeDash": [1.5, 2], "opacity": 1},
     "encoding": {"size": {"field": "r", "type": "quantitative", "scale": {"type": "pow", "exponent": 2, "domain": [0, 40], "range": [0, 56644]}, "legend": null}}},
    {"data": {"name": "spokes"}, "transform": [{"calculate": "0", "as": "x"}, {"calculate": "0", "as": "y"}, {"calculate": "40*cos(datum.a*PI/180)", "as": "x2"}, {"calculate": "-40*sin(datum.a*PI/180)", "as": "y2"}],
     "mark": {"type": "rule", "stroke": "#dde1f0", "strokeWidth": 0.8, "strokeDash": [1.5, 2]},
     "encoding": {"x2": {"field": "x2"}, "y2": {"field": "y2"}}},
    {"data": {"name": "rings"}, "transform": [{"filter": "datum.r == 40"}, {"calculate": "0", "as": "x"}, {"calculate": "0", "as": "y"}],
     "mark": {"type": "point", "shape": "circle", "filled": false, "stroke": "#c3c8dd", "strokeWidth": 1, "strokeDash": [2, 2], "opacity": 1},
     "encoding": {"size": {"field": "r", "type": "quantitative", "scale": {"type": "pow", "exponent": 2, "domain": [0, 40], "range": [0, 56644]}, "legend": null}}},
    {"data": {"name": "alab"}, "transform": [{"calculate": "40*cos((datum.a-2.5)*PI/180)", "as": "x"}, {"calculate": "-40*sin((datum.a-2.5)*PI/180)", "as": "y"}, {"calculate": "40*cos((datum.a+2.5)*PI/180)", "as": "x2"}, {"calculate": "-40*sin((datum.a+2.5)*PI/180)", "as": "y2"}],
     "mark": {"type": "rule", "stroke": "#555555", "strokeWidth": 1.1},
     "encoding": {"x2": {"field": "x2"}, "y2": {"field": "y2"}}},
    {"data": {"name": "alab"}, "transform": [{"calculate": "43*cos(datum.a*PI/180)", "as": "x"}, {"calculate": "-43*sin(datum.a*PI/180)", "as": "y"}],
     "mark": {"type": "text", "fontSize": 9.5, "color": "#2a2a2a", "baseline": "middle", "align": "center"},
     "encoding": {"text": {"field": "t"}}},
    {"data": {"name": "dbl"}, "transform": [{"calculate": "40-datum.db", "as": "x"}, {"calculate": "0", "as": "y"}],
     "mark": {"type": "text", "fontSize": 7, "color": "#333333", "baseline": "middle", "align": "left", "dx": 2, "dy": -1},
     "encoding": {"text": {"field": "db"}}},
    {"data": {"name": "pat"}, "transform": [{"filter": "datum.p == 'P8'"}, {"calculate": "(40-datum.db)*cos(datum.a*PI/180)", "as": "x"}, {"calculate": "-(40-datum.db)*sin(datum.a*PI/180)", "as": "y"}],
     "mark": {"type": "line", "interpolate": "cardinal-closed", "tension": 0.5, "stroke": "#2457b2", "strokeWidth": 2},
     "encoding": {"order": {"field": "a", "type": "quantitative"}}},
    {"data": {"name": "subs"}, "transform": [{"filter": "datum.p == 'P8'"}, {"calculate": "-1.34", "as": "x"}, {"calculate": "-50.42", "as": "y"}],
     "mark": {"type": "text", "fontSize": 18, "color": "#1a1a1a", "baseline": "middle", "align": "center"},
     "encoding": {"text": {"field": "t"}}}
   ]}
]
}
